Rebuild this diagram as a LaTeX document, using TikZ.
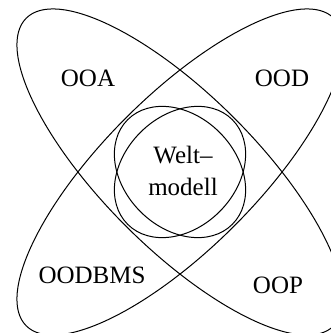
\documentclass[tikz,border=0pt]{standalone}
\usepackage{fontspec}
\setmainfont{Liberation Serif}
\begin{document}
\begin{tikzpicture}[x=1pt,y=1pt,
  ring/.style={draw=black,line width=1pt},
  lbl/.style={font=\fontsize{25}{32}\selectfont,inner sep=0pt}]
\useasboundingbox (0,0) rectangle (331,333);
\clip (0,0) rectangle (331,333);
\coordinate (C) at (180,161);
\draw[ring,rotate around={45:(C)}] (C) ellipse [x radius=217.5, y radius=76.5];
\draw[ring,rotate around={-45:(C)}] (C) ellipse [x radius=217.5, y radius=76.5];
\draw[ring,rotate around={45:(C)}] (C) ellipse [x radius=74, y radius=56];
\draw[ring,rotate around={-45:(C)}] (C) ellipse [x radius=74, y radius=56];
\node[lbl] (ooa) at (88,255) {OOA};
\node[lbl] (ood) at (282,255) {OOD};
\node[lbl] (oodbms) at (92,58) {OODBMS};
\node[lbl] (oop) at (278,48) {OOP};
\node[lbl,align=center] (welt) at (183,162) {Welt–\\modell};
\end{tikzpicture}
\end{document}
